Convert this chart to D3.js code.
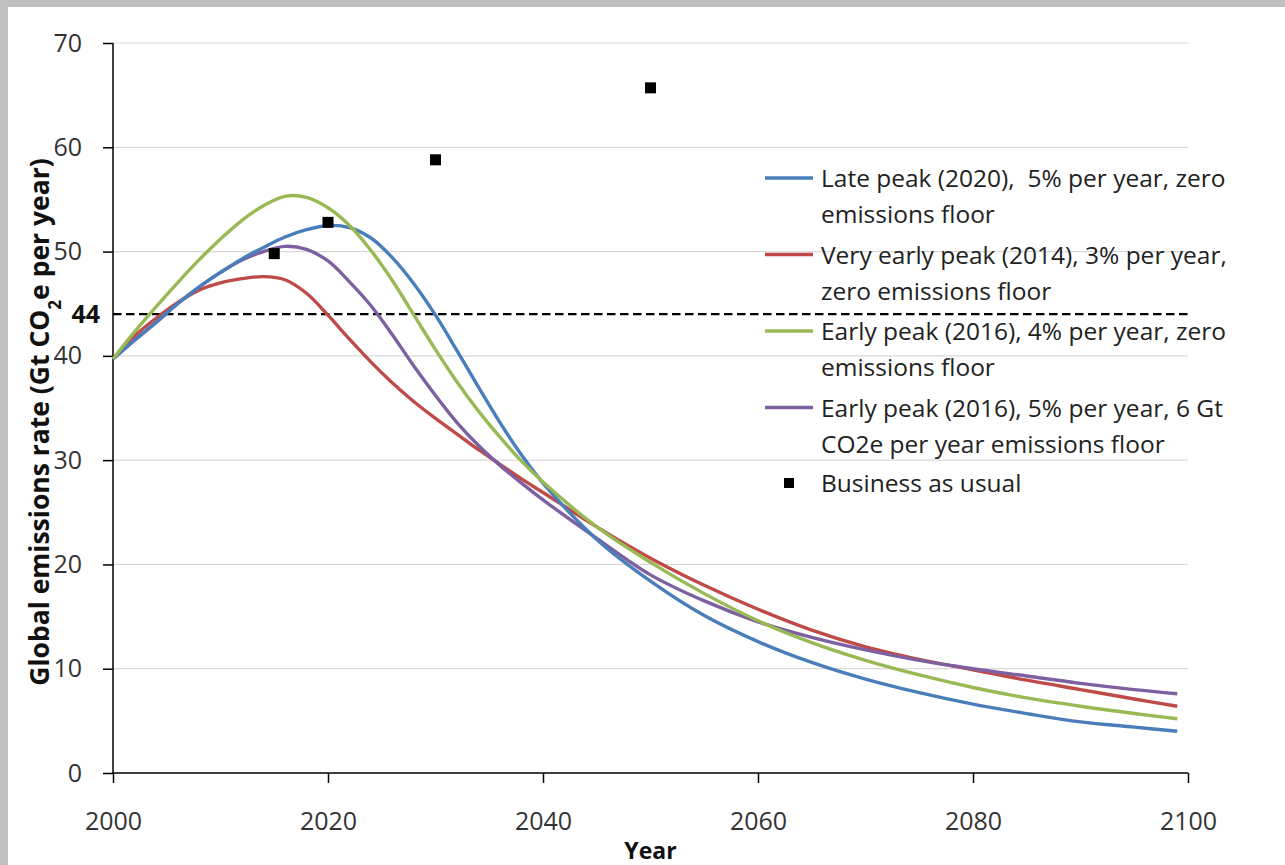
<!DOCTYPE html>
<html>
<head>
<meta charset="utf-8">
<script src="https://cdn.jsdelivr.net/npm/d3@7"></script>
<style>
  html, body { margin: 0; padding: 0; background: #fff; }
  svg { display: block; }
  text { font-family: "Open Sans", "Noto Sans", sans-serif; }
</style>
</head>
<body>
<svg id="chart" width="1285" height="865"></svg>
<script>
// ---------- data ----------
const years = [2000, 2002, 2004, 2006, 2008, 2010, 2012, 2014, 2016, 2018, 2020,
               2022, 2024, 2026, 2028, 2030, 2032, 2034, 2036, 2038, 2040,
               2045, 2050, 2055, 2060, 2065, 2070, 2075, 2080, 2085, 2090, 2095, 2099];

const latePeak2020 = [39.7, 41.5, 43.2, 45.0, 46.6, 48.0, 49.3, 50.4, 51.4, 52.1, 52.5,
                      52.3, 51.3, 49.4, 46.9, 43.9, 40.5, 37.0, 33.6, 30.5, 27.8,
                      22.4, 18.4, 15.1, 12.6, 10.6, 9.0, 7.7, 6.6, 5.7, 4.9, 4.4, 4.0];

const veryEarlyPeak2014 = [39.7, 41.9, 43.6, 45.1, 46.3, 47.0, 47.4, 47.6, 47.3, 46.0, 43.9,
                           41.6, 39.4, 37.4, 35.6, 34.0, 32.5, 31.0, 29.6, 28.2, 26.9,
                           23.6, 20.6, 18.0, 15.7, 13.7, 12.1, 10.9, 9.9, 8.9, 8.0, 7.1, 6.4];

const earlyPeak2016_4 = [39.7, 42.3, 44.7, 47.0, 49.2, 51.2, 53.0, 54.4, 55.3, 55.2, 54.2,
                         52.5, 50.1, 47.2, 43.9, 40.6, 37.5, 34.7, 32.2, 29.9, 27.9,
                         23.6, 20.2, 17.2, 14.6, 12.5, 10.8, 9.4, 8.2, 7.2, 6.4, 5.7, 5.2];

const earlyPeak2016_5 = [39.7, 41.5, 43.2, 45.0, 46.6, 48.0, 49.2, 50.0, 50.5, 50.2, 49.1,
                         47.1, 44.8, 42.0, 39.0, 36.2, 33.6, 31.4, 29.5, 27.8, 26.2,
                         22.5, 19.0, 16.5, 14.5, 13.0, 11.8, 10.8, 10.0, 9.3, 8.6, 8.0, 7.6];

const bauYears = [2015, 2020, 2030, 2050];
const bauValues = [49.8, 52.8, 58.8, 65.7];

const threshold = 44;

const seriesNames = [
  ["Late peak (2020),  5% per year, zero", "emissions floor"],
  ["Very early peak (2014), 3% per year,", "zero emissions floor"],
  ["Early peak (2016), 4% per year, zero", "emissions floor"],
  ["Early peak (2016), 5% per year, 6 Gt", "CO2e per year emissions floor"]
];
const bauName = "Business as usual";
const seriesColors = ["#4a7ebb", "#be4b48", "#98b954", "#7d60a0"];

const xTicks = [2000, 2020, 2040, 2060, 2080, 2100];
const yTicks = [0, 10, 20, 30, 40, 50, 60, 70];

// ---------- drawing ----------
const svg = d3.select("#chart");
const W = 1285, H = 865;

// grey frame remnants of the original screenshot
svg.append("rect").attr("x", 0).attr("y", 0).attr("width", W).attr("height", 7).attr("fill", "#c0c0c0");
svg.append("rect").attr("x", 0).attr("y", 0).attr("width", 8).attr("height", H).attr("fill", "#c0c0c0");

const x = d3.scaleLinear().domain([2000, 2100]).range([113, 1188]);
const y = d3.scaleLinear().domain([0, 70]).range([773, 43]);

// gridlines
svg.append("g")
  .selectAll("line")
  .data(yTicks.filter(d => d > 0))
  .join("line")
  .attr("x1", x(2000)).attr("x2", x(2100))
  .attr("y1", d => y(d)).attr("y2", d => y(d))
  .attr("stroke", "#d9d9d9").attr("stroke-width", 1.2);

// threshold dashed line
svg.append("line")
  .attr("x1", x(2000)).attr("x2", x(2100))
  .attr("y1", y(threshold)).attr("y2", y(threshold))
  .attr("stroke", "#000").attr("stroke-width", 2.4)
  .attr("stroke-dasharray", "8.5,4.5");

// axes
const yAxis = svg.append("g")
  .attr("transform", `translate(${x(2000)},0)`)
  .call(d3.axisLeft(y).tickValues(yTicks).tickSize(10).tickPadding(21).tickFormat(d3.format("d")));
const xAxis = svg.append("g")
  .attr("transform", `translate(0,${y(0)})`)
  .call(d3.axisBottom(x).tickValues(xTicks).tickSize(10).tickPadding(28).tickFormat(d3.format("d")));

[yAxis, xAxis].forEach(g => {
  g.select(".domain").attr("stroke", "#000").attr("stroke-width", 1.5);
  g.selectAll(".tick line").attr("stroke", "#000").attr("stroke-width", 1.5);
  g.selectAll(".tick text").attr("fill", "#333").style("font-size", "25px")
    .style("font-family", "'Open Sans', sans-serif");
});
yAxis.select(".domain").attr("d", `M0,${y(70)}V${y(0)}`);
xAxis.select(".domain").attr("d", `M${x(2000)},0H${x(2100)}`);
xAxis.selectAll(".tick text").attr("y", 57).attr("dy", 0);

// 44 label
svg.append("text")
  .attr("x", 100).attr("y", y(threshold)).attr("dy", "0.36em")
  .attr("text-anchor", "end")
  .style("font-size", "25px").style("font-weight", "bold").attr("fill", "#111")
  .text(threshold);

// lines
const line = d3.line()
  .x((d, i) => x(years[i]))
  .y(d => y(d))
  .curve(d3.curveCatmullRom.alpha(0.5));

const allSeries = [latePeak2020, veryEarlyPeak2014, earlyPeak2016_4, earlyPeak2016_5];
const drawOrder = [1, 3, 0, 2];
drawOrder.forEach(k => {
  svg.append("path")
    .attr("d", line(allSeries[k]))
    .attr("fill", "none")
    .attr("stroke", seriesColors[k])
    .attr("stroke-width", 3.4)
    .attr("stroke-linejoin", "round");
});

// business as usual markers
const sq = 11;
svg.append("g").selectAll("rect")
  .data(bauValues)
  .join("rect")
  .attr("x", (d, i) => x(bauYears[i]) - sq / 2)
  .attr("y", d => y(d) - sq / 2)
  .attr("width", sq).attr("height", sq)
  .attr("fill", "#000");

// legend
const legX0 = 765, legX1 = 813, legTextX = 821;
const rowY = [178, 254.5, 331, 407.5];
const lg = svg.append("g");
seriesNames.forEach((lines, i) => {
  lg.append("line")
    .attr("x1", legX0).attr("x2", legX1)
    .attr("y1", rowY[i]).attr("y2", rowY[i])
    .attr("stroke", seriesColors[i]).attr("stroke-width", 3.4);
  lines.forEach((t, j) => {
    lg.append("text")
      .attr("x", legTextX).attr("y", rowY[i] + 9 + j * 36)
      .style("font-size", "24.5px").style("white-space", "pre").attr("fill", "#222")
      .text(t);
  });
});
lg.append("rect")
  .attr("x", 789 - 5).attr("y", 483 - 5).attr("width", 10).attr("height", 10).attr("fill", "#000");
lg.append("text")
  .attr("x", legTextX).attr("y", 483 + 9)
  .style("font-size", "24.5px").attr("fill", "#222")
  .text(bauName);

// axis titles
svg.append("text")
  .attr("x", x(2050)).attr("y", 859)
  .attr("text-anchor", "middle")
  .style("font-size", "23px").style("font-weight", "bold").attr("fill", "#111")
  .text("Year");

const yt = svg.append("text")
  .attr("transform", "translate(49,422) rotate(-90)")
  .attr("text-anchor", "middle")
  .style("font-size", "26.5px").style("font-weight", "bold").attr("fill", "#111");
yt.append("tspan").text("Global emissions rate (Gt CO");
yt.append("tspan").attr("baseline-shift", "sub").style("font-size", "17px").text("2");
yt.append("tspan").text("e per year)");
</script>
</body>
</html>
